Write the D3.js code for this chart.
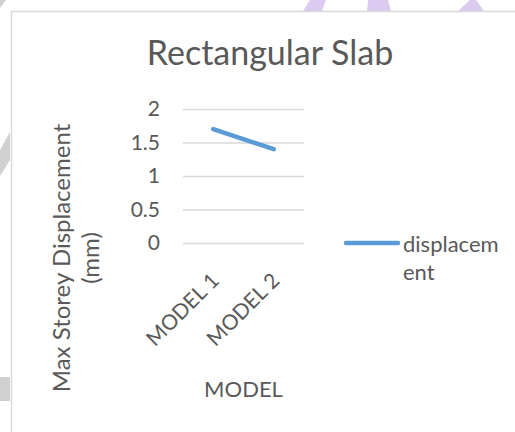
<!DOCTYPE html>
<html>
<head>
<meta charset="utf-8">
<script src="https://cdn.jsdelivr.net/npm/d3@7"></script>
<style>
  body { margin: 0; background: #fff; }
  svg { display: block; }
  text { font-family: Lato, "Open Sans", sans-serif; fill: #595959; }
</style>
</head>
<body>
<svg id="chart"></svg>
<script>
const categories = ['MODEL 1', 'MODEL 2'];
const displacement = [1.7, 1.4];
const yTicks = [0, 0.5, 1, 1.5, 2];
const seriesName = 'displacement';

const W = 515, H = 432;
const svg = d3.select('#chart').attr('width', W).attr('height', H);

// background page bits (watermark + sheet shading)
const deco = svg.append('g');
deco.append('path').attr('d', 'M303,11 L310,0 L326,0 L322,11 Z').attr('fill', '#dccbf0');
deco.append('path').attr('d', 'M367,11 L368,0 L388,0 L391,11 Z').attr('fill', '#dccbf0');
deco.append('path').attr('d', 'M458,11 L470,0 L476,0 L484,11 Z').attr('fill', '#dccbf0');
deco.append('path').attr('d', 'M0,0 L6,0 L0,8 Z').attr('fill', '#d0d0d0');
deco.append('path').attr('d', 'M0,150 L10,132 L10,160 L0,176 Z').attr('fill', '#d0d0d0');
deco.append('rect').attr('x', 0).attr('y', 377).attr('width', 10).attr('height', 24).attr('fill', '#d0d0d0');

// chart frame
svg.append('path').attr('d', 'M11.5,432 L11.5,11.5 L515,11.5')
  .attr('fill', 'none').attr('stroke', '#d9d9d9').attr('stroke-width', 1.5);

const x = d3.scaleBand().domain(categories).range([183, 304]);
const y = d3.scaleLinear().domain([0, 2]).range([243, 109]);

// gridlines + y labels
const yAxis = svg.append('g').attr('transform', 'translate(183,0)')
  .call(d3.axisLeft(y).tickValues(yTicks).tickSize(-121).tickPadding(23).tickFormat(d3.format('')));
yAxis.select('.domain').remove();
yAxis.selectAll('line').attr('stroke', '#d9d9d9').attr('stroke-width', 1.3);
yAxis.selectAll('text').style('font-size', '21px').attr('fill', '#595959');

// x labels rotated
svg.append('g').selectAll('text').data(categories).join('text')
  .attr('transform', d => `translate(${x(d) + x.bandwidth() / 2 + 7},282) rotate(-45)`)
  .attr('text-anchor', 'end')
  .style('font-size', '21px')
  .text(d => d);

// line
const line = d3.line()
  .x((d, i) => x(categories[i]) + x.bandwidth() / 2)
  .y(d => y(d));
svg.append('path').datum(displacement)
  .attr('d', line)
  .attr('fill', 'none').attr('stroke', '#5b9bd5')
  .attr('stroke-width', 4.5).attr('stroke-linecap', 'round');

// title
svg.append('text').attr('x', 270).attr('y', 65).attr('text-anchor', 'middle')
  .style('font-size', '34px').text('Rectangular Slab');

// axis titles
const yTitle = svg.append('text').attr('transform', 'translate(70,258) rotate(-90)')
  .attr('text-anchor', 'middle').style('font-size', '24px');
yTitle.append('tspan').attr('x', 0).attr('dy', 0).text('Max Storey Displacement');
yTitle.append('tspan').attr('x', 0).attr('dy', 29).text('(mm)');

svg.append('text').attr('x', 243.5).attr('y', 397).attr('text-anchor', 'middle')
  .style('font-size', '22px').text('MODEL');

// legend
svg.append('line').attr('x1', 346).attr('x2', 398).attr('y1', 243).attr('y2', 243)
  .attr('stroke', '#5b9bd5').attr('stroke-width', 4.5).attr('stroke-linecap', 'round');
const leg = svg.append('text').attr('x', 403).attr('y', 252).style('font-size', '22px');
leg.append('tspan').attr('x', 403).text(seriesName.slice(0, 9));
leg.append('tspan').attr('x', 403).attr('dy', 28).text(seriesName.slice(9));
</script>
</body>
</html>
